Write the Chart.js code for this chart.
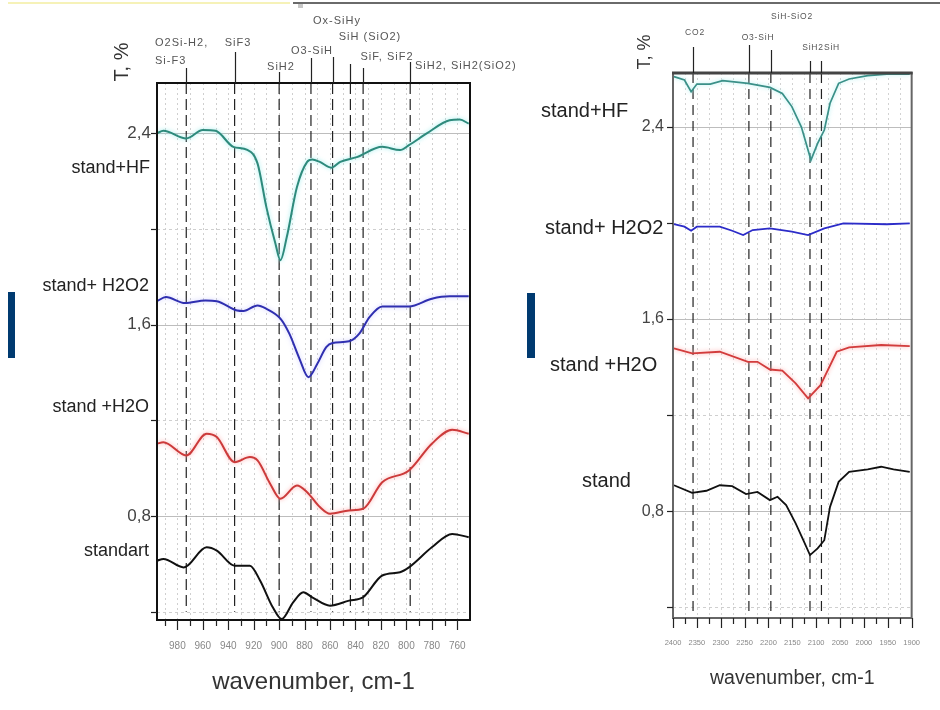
<!DOCTYPE html>
<html><head><meta charset="utf-8">
<script src="https://cdn.jsdelivr.net/npm/chart.js@4.4.0/dist/chart.umd.min.js"></script>
<style>
html,body{margin:0;padding:0;background:#fff;}
#wrap{position:relative;width:940px;height:710px;overflow:hidden;background:#fff;}
canvas{position:absolute;left:0;top:0;}
.bar{position:absolute;background:#003a70;}
</style></head><body>
<div id="wrap">
<div style="position:absolute;left:8px;top:2px;width:282px;height:2px;background:#f6f2b8"></div>
<div style="position:absolute;left:293px;top:2px;width:647px;height:2px;background:#6a6a6a"></div>
<div style="position:absolute;left:298px;top:4px;width:5px;height:4px;background:#c8c8c8"></div>
<div class="bar" style="left:8px;top:292px;width:7px;height:66px"></div>
<div class="bar" style="left:527px;top:293px;width:8px;height:65px"></div>
<canvas id="c1" width="940" height="710"></canvas>
<canvas id="c2" width="940" height="710"></canvas>
</div>
<script>
// ---------------- LEFT PANEL DATA (wavenumber, cm-1 / T) ----------------
const leftTicksX = [980, 960, 940, 920, 900, 880, 860, 840, 820, 800, 780, 760];
const leftTicksY = [0.8, 1.6, 2.4];
const leftGridY = [0.4, 0.8, 1.2, 1.6, 2.0, 2.4];

const leftWnHF = [996, 991, 973, 960, 950, 936, 925, 917, 910, 903, 899, 894, 886, 878, 874, 868, 859, 852, 839, 819, 805, 798, 784, 766, 758, 751];
const leftHF   = [2.40, 2.41, 2.378, 2.413, 2.41, 2.343, 2.33, 2.274, 2.09, 1.94, 1.869, 1.966, 2.175, 2.28, 2.29, 2.28, 2.256, 2.28, 2.30, 2.343, 2.33, 2.35, 2.399, 2.454, 2.457, 2.44];

const leftWnH2O2 = [996, 989, 974, 958, 949, 933, 928, 917, 910, 899, 892, 884, 877, 870, 863, 858, 845, 837, 829, 819, 798, 780, 766, 751];
const leftH2O2   = [1.698, 1.715, 1.69, 1.701, 1.698, 1.659, 1.657, 1.68, 1.666, 1.625, 1.562, 1.457, 1.38, 1.436, 1.506, 1.523, 1.53, 1.562, 1.631, 1.676, 1.676, 1.708, 1.718, 1.718];

const leftWnH2O = [996, 991, 973, 957, 949, 935, 923, 917, 907, 899, 886, 878, 868, 860, 845, 834, 819, 798, 780, 764, 751];
const leftH2O   = [1.102, 1.108, 1.053, 1.144, 1.13, 1.025, 1.046, 1.032, 0.934, 0.872, 0.927, 0.899, 0.837, 0.809, 0.823, 0.83, 0.941, 0.99, 1.102, 1.16, 1.144];

const leftWnStd = [996, 991, 975, 957, 949, 935, 923, 915, 905, 898, 889, 881, 874, 860, 845, 834, 819, 805, 798, 780, 764, 751];
const leftStd   = [0.613, 0.62, 0.585, 0.669, 0.655, 0.592, 0.592, 0.53, 0.418, 0.369, 0.439, 0.481, 0.46, 0.425, 0.446, 0.46, 0.551, 0.565, 0.585, 0.669, 0.725, 0.711];

const leftMarkers = [973, 935, 900, 875, 858, 844, 834, 797];
const leftMarkerLabels = [["O2Si-H2,", "Si-F3"], ["SiF3"], ["SiH2"], ["O3-SiH"], ["Ox-SiHy"], ["SiH (SiO2)"], ["SiF, SiF2"], ["SiH2, SiH2(SiO2)"]];
const leftSeriesNames = ["stand+HF", "stand+ H2O2", "stand +H2O", "standart"];

// ---------------- RIGHT PANEL DATA ----------------
const rightTicksX = [2400, 2350, 2300, 2250, 2200, 2150, 2100, 2050, 2000, 1950, 1900];
const rightTicksY = [0.8, 1.6, 2.4];
const rightGridY = [0.4, 0.8, 1.2, 1.6, 2.0, 2.4];

const rightWnHF = [2398, 2376, 2362, 2350, 2322, 2296, 2243, 2197, 2171, 2151, 2131, 2111, 2097, 2083, 2071, 2053, 2031, 1992, 1952, 1904];
const rightHF   = [2.61, 2.596, 2.547, 2.579, 2.579, 2.593, 2.582, 2.565, 2.54, 2.485, 2.40, 2.2625, 2.332, 2.3875, 2.499, 2.582, 2.60, 2.614, 2.62, 2.62];

const rightWnH2O2 = [2398, 2376, 2362, 2350, 2302, 2276, 2253, 2233, 2197, 2151, 2117, 2083, 2043, 1952, 1904];
const rightH2O2   = [1.996, 1.985, 1.968, 1.985, 1.985, 1.968, 1.95, 1.971, 1.978, 1.964, 1.95, 1.978, 1.999, 1.995, 1.999];

const rightWnH2O = [2398, 2360, 2302, 2243, 2223, 2197, 2171, 2143, 2117, 2091, 2057, 2031, 1964, 1904];
const rightH2O   = [1.478, 1.457, 1.464, 1.422, 1.422, 1.39, 1.385, 1.332, 1.27, 1.325, 1.464, 1.482, 1.492, 1.4875];

const rightWnStd = [2398, 2360, 2330, 2302, 2276, 2247, 2223, 2197, 2181, 2163, 2143, 2127, 2113, 2097, 2083, 2071, 2053, 2031, 1992, 1964, 1938, 1904];
const rightStd   = [0.908, 0.876, 0.885, 0.908, 0.904, 0.871, 0.88, 0.846, 0.86, 0.825, 0.749, 0.679, 0.617, 0.645, 0.679, 0.818, 0.922, 0.964, 0.974, 0.985, 0.974, 0.964];

const rightMarkers = [2358, 2241, 2195, 2113, 2089];
const rightMarkerLabels = [["CO2"], ["O3-SiH"], ["SiH-SiO2"], ["SiH2"], ["SiH"]];
const rightSeriesNames = ["stand+HF", "stand+ H2O2", "stand +H2O", "stand"];

// ---------------- rendering ----------------
const FONT = '"Liberation Sans", Arial, sans-serif';
const pts = (xs, ys) => xs.map((x, i) => ({x: x, y: ys[i]}));

const panelPlugin = {
  id: 'panel',
  beforeDatasetsDraw(chart, args, o) {
    const {ctx, chartArea: a, scales: {x, y}} = chart;
    ctx.save();
    ctx.lineWidth = 1;
    ctx.strokeStyle = o.vGridColor;
    ctx.setLineDash([2, 3]);
    for (let v = o.xMinorFrom; v <= o.xMinorTo + 1e-9; v += o.xMinorStep) {
      const px = Math.round(x.getPixelForValue(v)) + 0.5;
      if (px <= a.left + 2 || px >= a.right - 2) continue;
      ctx.beginPath(); ctx.moveTo(px, a.top); ctx.lineTo(px, a.bottom); ctx.stroke();
    }
    o.gridY.forEach(v => {
      const major = o.ticksY.some(t => Math.abs(t - v) < 1e-6);
      ctx.setLineDash(major ? [] : [3, 3]);
      ctx.strokeStyle = major ? o.hMajorColor : o.hMinorColor;
      const py = Math.round(y.getPixelForValue(v)) + 0.5;
      ctx.beginPath(); ctx.moveTo(a.left, py); ctx.lineTo(a.right, py); ctx.stroke();
    });
    ctx.restore();
  },
  beforeDatasetDraw(chart, args) {
    const ds = chart.data.datasets[args.index];
    if (ds.glowColor) { chart.ctx.save(); chart.ctx.shadowColor = ds.glowColor; chart.ctx.shadowBlur = 4; }
  },
  afterDatasetDraw(chart, args) {
    const ds = chart.data.datasets[args.index];
    if (ds.glowColor) chart.ctx.restore();
  },
  afterDraw(chart, args, o) {
    const {ctx, chartArea: a, scales: {x, y}} = chart;
    ctx.save();
    // frame
    ctx.setLineDash([]);
    ctx.strokeStyle = o.boxColor; ctx.lineWidth = o.boxWidth;
    ctx.strokeRect(a.left, a.top, a.right - a.left, a.bottom - a.top);
    if (o.topWidth) {
      ctx.lineWidth = o.topWidth; ctx.strokeStyle = o.topColor;
      ctx.beginPath(); ctx.moveTo(a.left - 1, a.top); ctx.lineTo(a.right + 1, a.top); ctx.stroke();
    }
    // tick marks
    ctx.lineWidth = 1.2; ctx.strokeStyle = o.tickColor;
    for (let v = o.xMinorFrom; v <= o.xMinorTo + 1e-9; v += o.xMinorStep) {
      const px = Math.round(x.getPixelForValue(v)) + 0.5;
      const major = o.ticksX.some(t => Math.abs(t - v) < 1e-6);
      ctx.beginPath(); ctx.moveTo(px, a.bottom); ctx.lineTo(px, a.bottom + (major ? 10 : 6)); ctx.stroke();
    }
    o.gridY.forEach(v => {
      const py = Math.round(y.getPixelForValue(v)) + 0.5;
      ctx.beginPath(); ctx.moveTo(a.left - 6, py); ctx.lineTo(a.left, py); ctx.stroke();
    });
    // marker ticks + labels
    ctx.fillStyle = o.markerTextColor;
    ctx.font = o.markerFont;
    ctx.letterSpacing = o.markerSpacing;
    ctx.textBaseline = 'middle';
    o.markers.forEach((m, i) => {
      const L = o.markerLayout[i];
      const px = Math.round(x.getPixelForValue(m)) + 0.5;
      ctx.strokeStyle = '#222'; ctx.lineWidth = 1.2;
      ctx.beginPath(); ctx.moveTo(px, L.tickTop); ctx.lineTo(px, a.top); ctx.stroke();
      ctx.textAlign = L.ax;
      o.markerLabels[i].forEach((t, j) => ctx.fillText(t, L.x, L.y[j]));
    });
    ctx.letterSpacing = '0px';
    // series names
    ctx.fillStyle = '#222';
    ctx.font = o.nameFont;
    o.names.forEach((n, i) => {
      const L = o.nameLayout[i];
      ctx.textAlign = L.ax;
      ctx.fillText(n, L.x, L.y);
    });
    // y title
    ctx.save();
    ctx.translate(o.yTitle.x, o.yTitle.y);
    ctx.rotate(-Math.PI / 2);
    ctx.textAlign = 'center';
    ctx.font = o.yTitle.font;
    ctx.fillStyle = '#333';
    ctx.fillText('T, %', 0, 0);
    ctx.restore();
    ctx.restore();
  }
};

function makePanel(id, p) {
  const datasets = p.series.map(s => ({
    data: pts(s.xs, s.ys), borderColor: s.color, borderWidth: s.width, glowColor: s.glow,
    pointRadius: 0, tension: 0, cubicInterpolationMode: p.mono ? 'monotone' : 'default', fill: false, order: 0
  }));
  p.markers.forEach(m => datasets.push({
    data: [{x: m, y: p.yMax}, {x: m, y: p.markerBottom}], borderColor: '#222', borderWidth: 1.2,
    borderDash: p.dash, pointRadius: 0, fill: false, order: 5
  }));
  return new Chart(document.getElementById(id), {
    type: 'line',
    data: {datasets: datasets},
    options: {
      responsive: false, animation: false, devicePixelRatio: 1,
      layout: {padding: {left: 0, top: p.area.top, right: 940 - p.area.right, bottom: 0}},
      plugins: {
        legend: {display: false}, tooltip: {enabled: false},
        panel: p.panel
      },
      scales: {
        x: {
          type: 'linear', min: p.xMin, max: p.xMax, reverse: true,
          afterBuildTicks: s => { s.ticks = p.ticksX.map(v => ({value: v})); },
          afterFit: s => { s.height = 710 - p.area.bottom; },
          grid: {display: false, drawTicks: false}, border: {display: false},
          ticks: {padding: p.xTickPad, color: p.xTickColor, font: {family: FONT, size: p.xTickSize}, autoSkip: false, maxRotation: 0, callback: v => String(v)},
          title: {display: true, text: 'wavenumber, cm-1', color: '#333', font: {family: FONT, size: p.titleSize}, padding: {top: 0, bottom: p.titlePadBottom}}
        },
        y: {
          type: 'linear', min: p.yMin, max: p.yMax,
          afterBuildTicks: s => { s.ticks = p.ticksY.map(v => ({value: v})); },
          afterFit: s => { s.width = p.area.left; },
          grid: {display: false, drawTicks: false}, border: {display: false},
          ticks: {padding: p.yTickPad, color: '#444', font: {family: FONT, size: p.yTickSize}, callback: v => v.toFixed(1).replace('.', ',')}
        }
      }
    },
    plugins: [panelPlugin]
  });
}

makePanel('c1', {
  area: {left: 157, top: 83, right: 470, bottom: 620},
  xMin: 750, xMax: 996, yMin: 0.365, yMax: 2.61,
  ticksX: leftTicksX, ticksY: leftTicksY, mono: true,
  xTickPad: 20, xTickColor: '#888', xTickSize: 10, yTickPad: 6, yTickSize: 17,
  titleSize: 24, titlePadBottom: 13,
  markers: leftMarkers, markerBottom: 0.40, dash: [11, 5],
  series: [
    {xs: leftWnHF, ys: leftHF, color: '#2e8a7c', width: 2, glow: 'rgba(140,235,235,0.9)'},
    {xs: leftWnH2O2, ys: leftH2O2, color: '#2f2fb0', width: 2, glow: 'rgba(160,160,255,0.5)'},
    {xs: leftWnH2O, ys: leftH2O, color: '#cc3a3a', width: 2, glow: 'rgba(255,160,160,0.9)'},
    {xs: leftWnStd, ys: leftStd, color: '#111', width: 2}
  ],
  panel: {
    vGridColor: '#cfcfcf', hMajorColor: '#bdbdbd', hMinorColor: '#cfcfcf',
    xMinorFrom: 760, xMinorTo: 990, xMinorStep: 10,
    ticksX: leftTicksX, ticksY: leftTicksY, gridY: leftGridY,
    boxColor: '#111', boxWidth: 2, tickColor: '#222',
    markers: leftMarkers, markerLabels: leftMarkerLabels,
    markerLayout: [
      {ax: 'left', x: 155, y: [43, 61], tickTop: 68},
      {ax: 'center', x: 238, y: [43], tickTop: 52},
      {ax: 'center', x: 281, y: [67], tickTop: 72},
      {ax: 'center', x: 312, y: [51], tickTop: 58},
      {ax: 'center', x: 337, y: [21], tickTop: 57},
      {ax: 'center', x: 370, y: [37], tickTop: 64},
      {ax: 'center', x: 387, y: [57], tickTop: 68},
      {ax: 'left', x: 415, y: [66], tickTop: 62}
    ],
    markerTextColor: '#555', markerFont: '11px ' + FONT, markerSpacing: '1px',
    names: leftSeriesNames, nameFont: '18px ' + FONT,
    nameLayout: [
      {ax: 'right', x: 150, y: 168}, {ax: 'right', x: 149, y: 286},
      {ax: 'right', x: 149, y: 407}, {ax: 'right', x: 149, y: 551}
    ],
    yTitle: {x: 122, y: 62, font: '20px ' + FONT}
  }
});

makePanel('c2', {
  area: {left: 673, top: 73, right: 922, bottom: 618},
  xMin: 1900, xMax: 2400, yMin: 0.355, yMax: 2.625,
  ticksX: rightTicksX, ticksY: rightTicksY, mono: false,
  xTickPad: 20, xTickColor: '#888', xTickSize: 7.5, yTickPad: 9, yTickSize: 16,
  titleSize: 19.5, titlePadBottom: 20,
  markers: rightMarkers, markerBottom: 0.38, dash: [10, 6],
  series: [
    {xs: rightWnHF, ys: rightHF, color: '#3a9088', width: 1.7, glow: 'rgba(150,235,235,0.8)'},
    {xs: rightWnH2O2, ys: rightH2O2, color: '#2c2cc8', width: 1.8},
    {xs: rightWnH2O, ys: rightH2O, color: '#d23c3c', width: 1.8, glow: 'rgba(255,160,160,0.9)'},
    {xs: rightWnStd, ys: rightStd, color: '#111', width: 1.8}
  ],
  panel: {
    vGridColor: '#d2d2d2', hMajorColor: '#bdbdbd', hMinorColor: '#cfcfcf',
    xMinorFrom: 1900, xMinorTo: 2400, xMinorStep: 25,
    ticksX: rightTicksX, ticksY: rightTicksY, gridY: rightGridY,
    boxColor: '#666', boxWidth: 2, topWidth: 3, topColor: '#444', tickColor: '#222',
    markers: rightMarkers, markerLabels: rightMarkerLabels,
    markerLayout: [
      {ax: 'center', x: 695, y: [33], tickTop: 47},
      {ax: 'center', x: 758, y: [38], tickTop: 45},
      {ax: 'center', x: 792, y: [17], tickTop: 50},
      {ax: 'center', x: 813, y: [48], tickTop: 61},
      {ax: 'center', x: 832, y: [48], tickTop: 61}
    ],
    markerTextColor: '#555', markerFont: '8.5px ' + FONT, markerSpacing: '0.8px',
    names: rightSeriesNames, nameFont: '20px ' + FONT,
    nameLayout: [
      {ax: 'left', x: 541, y: 111}, {ax: 'left', x: 545, y: 228},
      {ax: 'left', x: 550, y: 365}, {ax: 'left', x: 582, y: 481}
    ],
    yTitle: {x: 645, y: 52, font: '18px ' + FONT}
  }
});
</script>
</body></html>
